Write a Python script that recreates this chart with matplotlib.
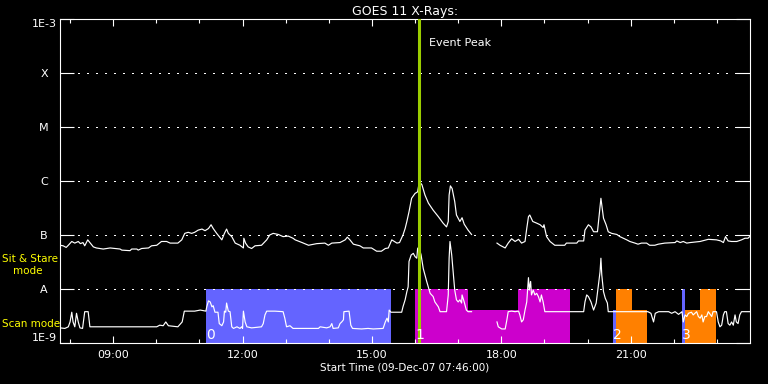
import numpy as np
import matplotlib
matplotlib.use("Agg")
import matplotlib.pyplot as plt
import matplotlib.transforms as mtransforms
from matplotlib.ticker import FixedLocator, FuncFormatter, NullLocator

# ---------------- data (time in hours of 09-Dec-07, flux as log10 W/m^2) ----------------
t_start = 7.767   # 07:46
t_end = 23.767    # 23:46

hi_t = [7.77, 7.84, 7.91, 7.96, 8.04, 8.11, 8.19, 8.24, 8.30, 8.34,
        8.41, 8.46, 8.54, 8.61, 8.77, 8.85, 8.93, 9.16, 9.20, 9.39,
        9.43, 9.55, 9.58, 9.66, 9.82, 9.89, 10.01, 10.12, 10.24, 10.32,
        10.50, 10.59, 10.66, 10.74, 10.82, 10.89, 10.97, 11.06, 11.13, 11.21,
        11.27, 11.32, 11.40, 11.52, 11.58, 11.63, 11.67, 11.75, 11.83, 11.94,
        12.02, 12.03, 12.07, 12.13, 12.21, 12.29, 12.44, 12.56, 12.63, 12.71,
        12.83, 12.94, 13.06, 13.17, 13.22, 13.38, 13.53, 13.72, 13.91, 13.99,
        14.07, 14.26, 14.38, 14.43, 14.49, 14.57, 14.72, 14.80, 14.99, 15.03,
        15.11, 15.22, 15.31, 15.38, 15.46, 15.52, 15.58, 15.64, 15.72, 15.77,
        15.81, 15.86, 15.92, 16.00, 16.06, 16.10, 16.16, 16.23, 16.31, 16.42,
        16.54, 16.65, 16.73, 16.77, 16.79, 16.82, 16.86, 16.92, 16.96, 17.04,
        17.09, 17.14, 17.23, 17.31, 17.55, 17.90, 17.97, 18.09, 18.16, 18.24,
        18.32, 18.40, 18.47, 18.55, 18.59, 18.63, 18.66, 18.73, 18.82, 18.90,
        18.97, 18.99, 19.05, 19.13, 19.24, 19.47, 19.51, 19.75, 19.79, 19.91,
        19.94, 20.02, 20.08, 20.14, 20.23, 20.27, 20.31, 20.33, 20.37, 20.43,
        20.48, 20.56, 20.68, 20.75, 20.91, 20.98, 21.10, 21.17, 21.25, 21.37,
        21.44, 21.56, 21.64, 21.79, 22.03, 22.07, 22.15, 22.22, 22.30, 22.38,
        22.61, 22.80, 22.99, 23.09, 23.15, 23.20, 23.26, 23.34, 23.46, 23.57,
        23.65, 23.72, 23.76]
nan = float("nan")
hi_log = [-7.19, -7.20, -7.23, -7.19, -7.12, -7.15, -7.12, -7.16, -7.14, -7.20,
          -7.09, -7.14, -7.22, -7.24, -7.26, -7.25, -7.24, -7.26, -7.28, -7.29,
          -7.26, -7.26, -7.28, -7.25, -7.24, -7.20, -7.19, -7.12, -7.12, -7.15,
          -7.15, -7.09, -6.97, -6.95, -6.97, -6.95, -6.91, -6.89, -6.92, -6.88,
          -6.81, -6.88, -6.97, -7.09, -6.97, -6.89, -6.97, -7.03, -7.15, -7.19,
          -7.24, -7.06, -7.15, -7.22, -7.25, -7.20, -7.19, -7.09, -7.00, -6.97,
          -6.99, -7.03, -7.02, -7.06, -7.09, -7.14, -7.19, -7.16, -7.15, -7.19,
          -7.15, -7.14, -7.09, -7.04, -7.09, -7.17, -7.20, -7.24, -7.24, -7.26,
          -7.30, -7.30, -7.25, -7.24, -7.09, -7.12, -7.15, -7.14, -7.00, -6.88,
          -6.75, -6.57, -6.32, -6.23, -6.20, -6.01, -6.07, -6.26, -6.41, -6.54,
          -6.66, -6.78, -6.85, -6.75, -6.26, -6.09, -6.14, -6.38, -6.63, -6.75,
          -6.68, -6.80, -6.91, -6.99, nan, -7.15, -7.19, -7.24, -7.15, -7.07,
          -7.12, -7.08, -7.15, -7.12, -6.88, -6.66, -6.63, -6.75, -6.78, -6.81,
          -6.86, -6.81, -7.03, -7.12, -7.19, -7.19, -7.15, -7.15, -7.11, -7.11,
          -6.91, -6.81, -6.85, -6.94, -6.94, -6.63, -6.32, -6.44, -6.69, -6.81,
          -6.94, -6.97, -6.99, -7.03, -7.09, -7.12, -7.15, -7.17, -7.15, -7.15,
          -7.19, -7.19, -7.17, -7.15, -7.14, -7.11, -7.14, -7.12, -7.15, -7.14,
          -7.12, -7.08, -7.09, -7.11, -7.14, -7.03, -7.11, -7.12, -7.12, -7.09,
          -7.06, -7.06, -7.03]

lo_t = [7.77, 7.88, 7.96, 8.00, 8.04, 8.07, 8.11, 8.15, 8.19, 8.23,
        8.29, 8.34, 8.42, 8.46, 10.01, 10.08, 10.16, 10.22, 10.28, 10.50,
        10.60, 10.65, 10.89, 11.02, 11.15, 11.17, 11.21, 11.25, 11.29, 11.32,
        11.36, 11.43, 11.46, 11.52, 11.56, 11.58, 11.61, 11.63, 11.67, 11.71,
        11.75, 11.79, 11.87, 11.94, 11.98, 12.00, 12.02, 12.06, 12.10, 12.21,
        12.44, 12.48, 12.52, 12.56, 12.75, 12.94, 12.98, 13.02, 13.10, 13.17,
        13.41, 13.76, 13.80, 13.95, 14.03, 14.07, 14.10, 14.22, 14.26, 14.30,
        14.34, 14.35, 14.47, 14.51, 14.55, 14.76, 14.91, 15.03, 15.26, 15.31,
        15.35, 15.38, 15.40, 15.44, 15.69, 15.72, 15.77, 15.81, 15.84, 15.86,
        15.91, 15.96, 16.00, 16.04, 16.06, 16.09, 16.14, 16.19, 16.27, 16.35,
        16.42, 16.46, 16.54, 16.58, 16.73, 16.77, 16.79, 16.81, 16.85, 16.89,
        16.92, 16.96, 17.00, 17.04, 17.08, 17.09, 17.14, 17.19, 17.23, 17.31,
        17.55, 17.90, 17.93, 18.01, 18.09, 18.13, 18.16, 18.24, 18.32, 18.40,
        18.43, 18.47, 18.51, 18.55, 18.59, 18.63, 18.65, 18.68, 18.70, 18.74,
        18.78, 18.82, 18.86, 18.90, 18.93, 18.97, 19.01, 19.91, 19.94, 19.98,
        20.02, 20.08, 20.14, 20.20, 20.25, 20.29, 20.31, 20.33, 20.37, 20.41,
        20.46, 20.48, 21.40, 21.47, 21.53, 21.57, 21.65, 21.88, 21.95, 22.03,
        22.11, 22.19, 22.22, 22.26, 22.30, 22.34, 22.41, 22.45, 22.53, 22.57,
        22.61, 22.65, 22.68, 22.72, 22.76, 22.80, 22.88, 22.91, 22.99, 23.03,
        23.07, 23.11, 23.15, 23.18, 23.22, 23.26, 23.30, 23.34, 23.38, 23.42,
        23.45, 23.49, 23.53, 23.57, 23.76]
lo_log = [-8.72, -8.73, -8.70, -8.61, -8.43, -8.61, -8.70, -8.45, -8.61, -8.72,
          -8.73, -8.42, -8.42, -8.70, -8.70, -8.67, -8.68, -8.61, -8.68, -8.70,
          -8.61, -8.41, -8.41, -8.39, -8.41, -8.33, -8.22, -8.24, -8.33, -8.31,
          -8.43, -8.43, -8.64, -8.68, -8.61, -8.41, -8.43, -8.26, -8.41, -8.42,
          -8.70, -8.73, -8.70, -8.73, -8.70, -8.73, -8.41, -8.61, -8.70, -8.72,
          -8.70, -8.64, -8.48, -8.41, -8.41, -8.42, -8.54, -8.70, -8.68, -8.73,
          -8.73, -8.73, -8.70, -8.72, -8.70, -8.64, -8.73, -8.72, -8.64, -8.61,
          -8.57, -8.42, -8.41, -8.67, -8.73, -8.74, -8.73, -8.74, -8.73, -8.61,
          -8.54, -8.61, -8.39, -8.43, -8.43, -8.33, -8.20, -8.05, -7.96, -7.49,
          -7.37, -7.34, -7.40, -7.43, -7.25, -7.22, -7.37, -7.62, -7.86, -8.08,
          -8.14, -8.24, -8.33, -8.42, -8.42, -8.11, -7.43, -7.12, -7.37, -7.74,
          -8.02, -8.20, -8.24, -8.20, -8.26, -8.11, -8.24, -8.39, -8.42, -8.42,
          nan, -8.61, -8.70, -8.74, -8.74, -8.57, -8.42, -8.41, -8.42, -8.41,
          -8.48, -8.61, -8.57, -8.39, -8.24, -7.79, -8.02, -7.86, -8.11, -8.02,
          -8.11, -8.08, -8.14, -8.24, -8.11, -8.24, -8.42, -8.42, -8.24, -8.11,
          -8.14, -8.24, -8.39, -8.26, -7.93, -7.68, -7.43, -7.74, -8.05, -8.17,
          -8.26, -8.42, -8.42, -8.45, -8.61, -8.45, -8.42, -8.42, -8.45, -8.42,
          -8.47, -8.42, -8.61, -8.48, -8.51, -8.45, -8.43, -8.48, -8.42, -8.51,
          -8.54, -8.48, -8.61, -8.51, -8.51, -8.42, -8.51, -8.42, -8.42, -8.61,
          -8.70, -8.67, -8.48, -8.42, -8.42, -8.64, -8.67, -8.61, -8.67, -8.48,
          -8.61, -8.64, -8.48, -8.42, -8.42]

# observing-mode segments (start, end in hours; top level as log10 flux; mode)
seg_start = [11.16, 16.00, 17.22, 18.38, 20.60, 20.65, 21.02, 22.19, 22.26, 22.61]
seg_end = [15.44, 17.22, 18.38, 19.59, 20.65, 21.02, 21.39, 22.26, 22.61, 22.99]
seg_level = [-8.0, -8.0, -8.39, -8.0, -8.39, -8.0, -8.39, -8.0, -8.39, -8.0]
seg_mode = ["blue", "magenta", "magenta", "magenta", "blue", "orange", "orange",
            "blue", "orange", "orange"]

event_start = [11.16, 16.00, 20.60, 22.19]
event_label = ["0", "1", "2", "3"]

peak_time = 16.09

y_ticks = [1e-9, 1e-8, 1e-7, 1e-6, 1e-5, 1e-4, 1e-3]
y_labels = ["1E-9", "A", "B", "C", "M", "X", "1E-3"]
grade_levels = [1e-8, 1e-7, 1e-6, 1e-5, 1e-4]
x_major = [9, 12, 15, 18, 21]
x_minor = list(range(8, 24))

# ---------------- drawing ----------------
mode_colors = {"blue": "#6464ff", "magenta": "#cc00cc", "orange": "#ff8000"}

fig = plt.figure(figsize=(7.68, 3.84), dpi=100, facecolor="black")
ax = fig.add_axes([60 / 768, 41 / 384, 690 / 768, 324 / 384], facecolor="black")
ax.set_yscale("log")
ax.set_ylim(1e-9, 1e-3)
ax.set_xlim(t_start, t_end)

starts = np.array(seg_start)
ends = np.array(seg_end)
tops = 10 ** np.array(seg_level)
ax.bar(starts, tops - 1e-9, width=ends - starts, bottom=1e-9, align="edge",
       color=[mode_colors[m] for m in seg_mode], linewidth=0, zorder=1)

for lv in grade_levels:
    ax.axhline(lv, color="white", lw=1.0, ls=(0, (0.75, 5.25)), zorder=2,
               antialiased=False)

ax.plot(hi_t, 10 ** np.array(hi_log), color="white", lw=0.85, zorder=3)
ax.plot(lo_t, 10 ** np.array(lo_log), color="white", lw=0.85, zorder=3)

ax.axvline(peak_time, color="#9acd00", lw=2.2, zorder=4)

blend = mtransforms.blended_transform_factory(ax.transData, ax.transAxes)
ax.annotate("Event Peak", xy=(peak_time, 0.927), xycoords=blend,
            xytext=(7.5, 0), textcoords="offset points", color="white",
            fontsize=8, va="center", ha="left", zorder=5)

for s, lab in zip(event_start, event_label):
    ax.text(s, 0.013, lab, transform=blend, color="white", fontsize=10,
            ha="left", va="baseline", zorder=5)

# axes styling
for sp in ax.spines.values():
    sp.set_color("white")
    sp.set_linewidth(0.8)

ax.set_yticks(y_ticks)
ax.set_yticklabels(y_labels)
ax.yaxis.set_minor_locator(NullLocator())
ax.tick_params(axis="y", which="major", direction="in", length=10, width=0.8,
               colors="white", left=True, right=True, pad=11.5, labelsize=8)
for lbl in ax.get_yticklabels():
    lbl.set_ha("center")
ylbls = ax.get_yticklabels()
ylbls[0].set_va("bottom")
ylbls[-1].set_va("top")

ax.xaxis.set_major_locator(FixedLocator(x_major))
ax.xaxis.set_minor_locator(FixedLocator(x_minor))
ax.xaxis.set_major_formatter(FuncFormatter(lambda v, p: f"{int(round(v)):02d}:00"))
ax.tick_params(axis="x", which="major", direction="in", length=5, width=0.8,
               colors="white", top=True, bottom=True, pad=5, labelsize=8)
ax.tick_params(axis="x", which="minor", direction="in", length=2.7, width=0.8,
               colors="white", top=True, bottom=True)

ax.set_title("GOES 11 X-Rays:", color="white", fontsize=9, pad=3)
ax.set_xlabel("Start Time (09-Dec-07 07:46:00)", color="white", fontsize=7.5,
              labelpad=2)

fig.text(2 / 768, 1 - 259 / 384, "Sit & Stare", color="yellow", fontsize=7.5,
         ha="left", va="center")
fig.text(13 / 768, 1 - 271 / 384, "mode", color="yellow", fontsize=7.5,
         ha="left", va="center")
fig.text(2 / 768, 1 - 324 / 384, "Scan mode", color="yellow", fontsize=7.5,
         ha="left", va="center")

fig.savefig("out.png", dpi=100, facecolor="black")
